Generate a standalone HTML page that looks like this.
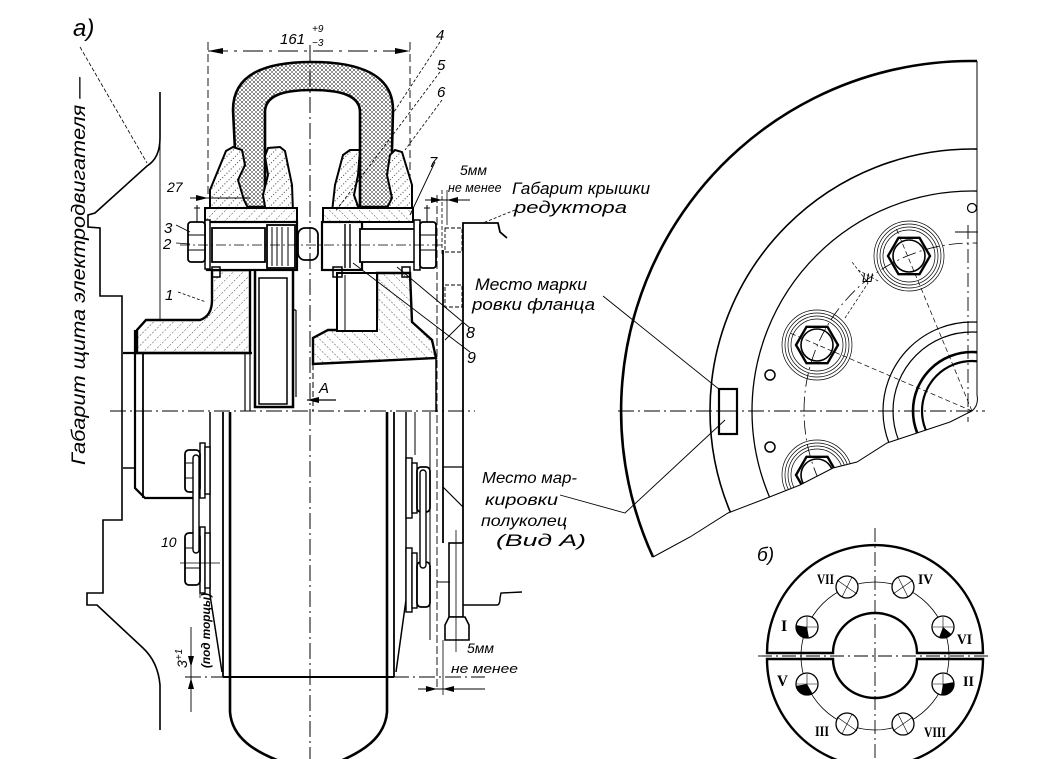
<!DOCTYPE html>
<html><head><meta charset="utf-8">
<style>
html,body{margin:0;padding:0;background:#fff;}
svg{display:block;}
text{font-family:"Liberation Sans",sans-serif;font-style:italic;fill:#000;stroke:none;}
.r{font-family:"Liberation Serif",serif;font-style:normal;font-weight:bold;}
</style></head><body>
<svg width="1059" height="759" viewBox="0 0 1059 759" xmlns="http://www.w3.org/2000/svg">
<defs>
<pattern id="tire" width="4" height="4" patternUnits="userSpaceOnUse">
 <rect width="4" height="4" fill="#fff"/>
 <path d="M0,4 L4,0 M0,0 L4,4" stroke="#000" stroke-width="0.4"/>
 <circle cx="2" cy="2" r="0.6" fill="#000"/>
</pattern>
<pattern id="hA" width="7" height="7" patternUnits="userSpaceOnUse" patternTransform="rotate(45)">
 <rect width="7" height="7" fill="#fff"/>
 <line x1="0" y1="0" x2="0" y2="7" stroke="#000" stroke-width="0.7" stroke-dasharray="2,1.5"/>
</pattern>
<pattern id="hB" width="7" height="7" patternUnits="userSpaceOnUse" patternTransform="rotate(-45)">
 <rect width="7" height="7" fill="#fff"/>
 <line x1="0" y1="0" x2="0" y2="7" stroke="#000" stroke-width="0.7" stroke-dasharray="2,1.5"/>
</pattern>
<pattern id="hL" width="6" height="6" patternUnits="userSpaceOnUse" patternTransform="rotate(45)">
 <rect width="6" height="6" fill="#fff"/>
 <circle cx="1" cy="1" r="0.5" fill="#000"/>
 <circle cx="1" cy="4" r="0.5" fill="#000"/>
</pattern>
<clipPath id="fan"><path d="M977,55 L977,395 Q979,405 972,411 L950,422 L920,432 L887,443 L857,462 L833,468 L800,485 L767,498 L728,513 L690,537 L653,557 A350,350 0 0 1 972,61 Z"/></clipPath>
</defs>

<!-- ================= LEFT VIEW ================= -->
<g fill="none" stroke="#000">
<!-- dimension 161 -->
<line x1="208" y1="51" x2="410" y2="51" stroke-width="1" stroke-dasharray="20,6,3,6"/>
<path d="M208,51 l15,-3 v6 z M410,51 l-15,-3 v6 z" fill="#000" stroke="none"/>
<line x1="208" y1="42" x2="208" y2="198" stroke-width="0.9" stroke-dasharray="8,4"/>
<line x1="410" y1="42" x2="410" y2="215" stroke-width="0.9" stroke-dasharray="8,4"/>

<!-- motor shield outline -->
<path d="M160,92 L160,138 Q160,158 147,166 L95,213 L88,215 L88,227 L100,228 L100,296 L122,296 L122,520 L103,520 L103,593 L87,593 L87,605 L97,605 L143,648 Q158,662 160,685 L160,730" stroke-width="1.6"/>
<line x1="160" y1="92" x2="160" y2="353" stroke-width="0.9"/>
<line x1="123" y1="468" x2="135" y2="468" stroke-width="1.5"/>
<line x1="80" y1="47" x2="147" y2="163" stroke-width="0.8" stroke-dasharray="4,2"/>

<!-- tire (top) -->
<path d="M235,207 L235,150 L233,110 C233,74 265,62 312,62 C358,62 393,74 393,110 L392,150 L392,207 L360,207 L360,112 C360,96 342,90 312,90 C282,90 265,96 265,112 L265,207 Z" fill="url(#tire)" stroke-width="2.6"/>

<!-- clamps -->
<polygon points="210,212 210,190 226,151 233,147 242,150 245,165 238,180 244,200 250,212" fill="url(#hL)" stroke-width="2"/>
<polygon points="266,212 263,195 268,175 265,156 268,148 280,147 285,151 292,185 293,212" fill="url(#hL)" stroke-width="2"/>
<polygon points="332,212 335,185 343,155 350,150 360,150 358,175 354,195 360,212" fill="url(#hL)" stroke-width="2"/>
<polygon points="385,212 392,198 387,175 390,155 395,150 402,152 412,185 412,214" fill="url(#hL)" stroke-width="2"/>

<!-- flange seats -->
<rect x="205" y="208" width="92" height="14" fill="url(#hA)" stroke-width="2"/>
<rect x="323" y="208" width="90" height="14" fill="url(#hB)" stroke-width="2"/>

<!-- left hub hatched -->
<path d="M137,353 L137,330 L146,320 L200,320 Q212,316 212,300 L212,270 L250,270 L250,353 Z" fill="url(#hA)" stroke-width="2.4"/>
<line x1="123" y1="353" x2="252" y2="353" stroke-width="2.2"/>
<path d="M135,330 L135,488 L145,498 L197,498" stroke-width="2.2"/>
<line x1="143" y1="353" x2="143" y2="498" stroke-width="1.8"/>
<line x1="245" y1="353" x2="245" y2="411" stroke-width="1.2"/>
<line x1="250" y1="353" x2="250" y2="411" stroke-width="1.2"/>

<!-- left disc -->
<rect x="255" y="267" width="38" height="140" fill="#fff" stroke-width="2.5"/>
<rect x="259" y="278" width="28" height="126" stroke-width="1.5"/>
<line x1="293" y1="310" x2="296" y2="310" stroke-width="1.2"/>
<line x1="296" y1="310" x2="296" y2="397" stroke-width="1.2"/>

<!-- right hub hatched -->
<path d="M313,364 L313,338 L328,330 L373,330 L377,318 L377,273 L410,273 L412,322 L432,340 L436,358 Z" fill="url(#hB)" stroke-width="2.4"/>
<rect x="337" y="273" width="40" height="58" fill="#fff" stroke-width="2"/>
<line x1="345" y1="275" x2="345" y2="330" stroke-width="1"/>
<line x1="313" y1="364" x2="313" y2="411" stroke-width="1" stroke-dasharray="6,3"/>
<line x1="436" y1="358" x2="436" y2="412" stroke-width="1.5"/>

<!-- left bolt assembly -->
<rect x="207" y="222" width="90" height="48" fill="#fff" stroke-width="2.2"/>
<rect x="212" y="228" width="53" height="34" stroke-width="1.8"/>
<rect x="267" y="225" width="28" height="43" fill="#fff" stroke-width="1.8"/>
<path d="M272,227 V266 M277,227 V266 M282,227 V266 M288,227 V266" stroke-width="1"/>
<rect x="205" y="220" width="5" height="49" fill="#fff" stroke-width="1.5"/>
<rect x="188" y="222" width="17" height="40" rx="3" fill="#fff" stroke-width="1.8"/>
<path d="M188,235 H205 M188,250 H205" stroke-width="1"/>
<path d="M197,205 V222 M194,208 H200" stroke-width="1"/>
<rect x="212" y="267" width="8" height="10" stroke-width="1.5"/>

<!-- right bolt assembly -->
<rect x="298" y="228" width="20" height="32" rx="7" fill="#fff" stroke-width="1.8"/>
<rect x="322" y="222" width="40" height="48" fill="#fff" stroke-width="2.2"/>
<path d="M345,224 V268 M350,224 V268" stroke-width="1.4"/>
<rect x="360" y="229" width="60" height="33" fill="#fff" stroke-width="1.8"/>
<rect x="414" y="220" width="6" height="50" fill="#fff" stroke-width="1.5"/>
<rect x="420" y="222" width="16" height="46" rx="3" fill="#fff" stroke-width="1.8"/>
<path d="M420,235 H436 M420,250 H436" stroke-width="1"/>
<path d="M427,205 V222 M424,208 H430" stroke-width="1"/>
<rect x="333" y="267" width="9" height="10" stroke-width="1.5"/>
<rect x="402" y="267" width="8" height="10" stroke-width="1.5"/>

<!-- bottom tire -->
<path d="M230,412 L230,712 C232,738 255,752 282,762" stroke-width="2.6"/>
<path d="M387,412 L387,712 C385,738 362,752 338,762" stroke-width="2.6"/>
<line x1="223" y1="412" x2="223" y2="677" stroke-width="1.8"/>
<line x1="394" y1="412" x2="394" y2="677" stroke-width="1.8"/>
<line x1="223" y1="677" x2="394" y2="677" stroke-width="2"/>
<path d="M210,412 L210,595 L222,672" stroke-width="1.5"/>
<path d="M406,412 L406,600 L396,672" stroke-width="1.5"/>
<line x1="415" y1="412" x2="415" y2="455" stroke-width="1"/>
<line x1="430" y1="412" x2="430" y2="640" stroke-width="1"/>

<!-- bottom left bolts -->
<rect x="200" y="443" width="5" height="55" fill="#fff" stroke-width="1.4"/>
<rect x="205" y="447" width="5" height="47" fill="#fff" stroke-width="1.4"/>
<rect x="185" y="450" width="15" height="42" rx="4" fill="#fff" stroke-width="1.8"/>
<path d="M185,463 H200 M185,478 H200" stroke-width="1"/>
<rect x="200" y="527" width="5" height="66" fill="#fff" stroke-width="1.4"/>
<rect x="205" y="533" width="5" height="55" fill="#fff" stroke-width="1.4"/>
<rect x="185" y="533" width="15" height="52" rx="4" fill="#fff" stroke-width="1.8"/>
<path d="M185,548 H200 M185,568 H200" stroke-width="1"/>
<rect x="193" y="455" width="6" height="98" rx="3" fill="#fff" stroke-width="1.4"/>
<path d="M180,563 H220 M200,540 V598" stroke-width="0.8"/>

<!-- bottom right bolts -->
<rect x="406" y="458" width="6" height="60" fill="#fff" stroke-width="1.4"/>
<rect x="412" y="463" width="5" height="50" fill="#fff" stroke-width="1.4"/>
<rect x="417" y="467" width="13" height="45" rx="4" fill="#fff" stroke-width="1.8"/>
<rect x="406" y="548" width="6" height="64" fill="#fff" stroke-width="1.4"/>
<rect x="412" y="553" width="5" height="55" fill="#fff" stroke-width="1.4"/>
<rect x="417" y="562" width="13" height="45" rx="4" fill="#fff" stroke-width="1.8"/>
<rect x="420" y="470" width="6" height="98" rx="3" fill="#fff" stroke-width="1.4"/>

<!-- reductor cover / right side -->
<line x1="437" y1="195" x2="437" y2="690" stroke-width="0.9" stroke-dasharray="8,3"/>
<line x1="443" y1="250" x2="443" y2="543" stroke-width="1.8"/>
<path d="M463,543 L463,223 L498,223 L500,232 L507,238" stroke-width="1.8"/>
<line x1="443" y1="467" x2="463" y2="467" stroke-width="1.2"/>
<line x1="443" y1="487" x2="463" y2="507" stroke-width="1.2"/>
<rect x="445" y="228" width="17" height="24" stroke-width="0.9" stroke-dasharray="4,2"/>
<rect x="445" y="285" width="17" height="22" stroke-width="0.9" stroke-dasharray="4,2"/>
<rect x="449" y="543" width="14" height="74" fill="#fff" stroke-width="1.6"/>
<path d="M445,625 L449,617 L465,617 L469,625 L469,640 L445,640 Z" fill="#fff" stroke-width="1.6"/>
<line x1="456" y1="530" x2="456" y2="652" stroke-width="0.8"/>
<path d="M463,605 L497,605 Q500,605 500,598 L501,593 L522,592" stroke-width="1.4"/>
<line x1="437" y1="582" x2="450" y2="582" stroke-width="1"/>

<!-- axes -->
<line x1="310" y1="45" x2="310" y2="759" stroke-width="1" stroke-dasharray="16,4,2,4"/>
<line x1="110" y1="411" x2="475" y2="411" stroke-width="1" stroke-dasharray="16,4,2,4"/>
<line x1="185" y1="677" x2="485" y2="677" stroke-width="1" stroke-dasharray="16,4,2,4"/>
<line x1="180" y1="245" x2="445" y2="245" stroke-width="0.8" stroke-dasharray="10,3,2,3"/>

<!-- leaders -->
<line x1="440" y1="42" x2="392" y2="115" stroke-width="0.8" stroke-dasharray="3,2"/>
<line x1="440" y1="72" x2="335" y2="212" stroke-width="0.8" stroke-dasharray="3,2"/>
<line x1="442" y1="100" x2="405" y2="150" stroke-width="0.8" stroke-dasharray="3,2"/>
<line x1="435" y1="162" x2="410" y2="215" stroke-width="0.9"/>
<line x1="178" y1="292" x2="206" y2="302" stroke-width="0.8" stroke-dasharray="3,2"/>
<line x1="176" y1="225" x2="190" y2="232" stroke-width="0.8"/>
<line x1="176" y1="243" x2="190" y2="244" stroke-width="0.8"/>
<line x1="397" y1="267" x2="470" y2="328" stroke-width="0.9"/>
<line x1="353" y1="263" x2="470" y2="352" stroke-width="0.9"/>
<line x1="445" y1="340" x2="463" y2="322" stroke-width="0.9"/>
<line x1="515" y1="210" x2="483" y2="223" stroke-width="0.8" stroke-dasharray="3,2"/>
<!-- 27 dim -->
<line x1="190" y1="198" x2="250" y2="198" stroke-width="0.9"/>
<path d="M208,198 l-12,-3 v6 z" fill="#000" stroke="none"/>
<!-- 5mm top -->
<line x1="425" y1="200" x2="470" y2="200" stroke-width="0.9"/>
<path d="M442,200 l-11,-3 v6 z M447,200 l11,-3 v6 z" fill="#000" stroke="none"/>
<line x1="442" y1="190" x2="442" y2="255" stroke-width="0.8" stroke-dasharray="4,2"/>
<line x1="447" y1="190" x2="447" y2="225" stroke-width="0.8"/>
<!-- 5mm bottom -->
<line x1="418" y1="689" x2="485" y2="689" stroke-width="0.9"/>
<path d="M437,689 l-11,-3 v6 z M443,689 l11,-3 v6 z" fill="#000" stroke="none"/>
<line x1="443" y1="640" x2="443" y2="695" stroke-width="0.8"/>
<!-- 3+1 dim -->
<line x1="191" y1="627" x2="191" y2="712" stroke-width="0.9"/>
<path d="M191,667 l-3,-11 h6 z M191,678 l-3,11 h6 z" fill="#000" stroke="none"/>
<!-- A arrow -->
<line x1="307" y1="400" x2="336" y2="400" stroke-width="1.2"/>
<path d="M307,400 l12,-3 v6 z" fill="#000" stroke="none"/>
</g>

<!-- left view text -->
<text x="73" y="36" font-size="24">а)</text>
<text transform="translate(85,465) rotate(-90)" font-size="19" textLength="388" lengthAdjust="spacingAndGlyphs">Габарит щита электродвигателя —</text>
<text x="280" y="44" font-size="15">161</text>
<text x="312" y="32" font-size="10">+9</text>
<text x="312" y="46" font-size="10">−3</text>
<text x="436" y="40" font-size="15">4</text>
<text x="437" y="70" font-size="15">5</text>
<text x="437" y="97" font-size="15">6</text>
<text x="429" y="167" font-size="15">7</text>
<text x="167" y="192" font-size="14">27</text>
<text x="164" y="233" font-size="15">3</text>
<text x="163" y="249" font-size="15">2</text>
<text x="165" y="300" font-size="15">1</text>
<text x="466" y="338" font-size="16">8</text>
<text x="467" y="363" font-size="16">9</text>
<text x="319" y="393" font-size="15">A</text>
<text x="161" y="547" font-size="14">10</text>
<text x="460" y="175" font-size="14">5мм</text>
<text x="448" y="192" font-size="12.5">не менее</text>
<text x="512" y="194" font-size="17" textLength="138" lengthAdjust="spacingAndGlyphs">Габарит крышки</text>
<text x="514" y="213" font-size="17" textLength="113" lengthAdjust="spacingAndGlyphs">редуктора</text>
<text x="475" y="290" font-size="17" textLength="112" lengthAdjust="spacingAndGlyphs">Место марки</text>
<text x="472" y="310" font-size="17" textLength="123" lengthAdjust="spacingAndGlyphs">ровки фланца</text>
<text x="482" y="483" font-size="16" textLength="95" lengthAdjust="spacingAndGlyphs">Место мар-</text>
<text x="485" y="505" font-size="16" textLength="73" lengthAdjust="spacingAndGlyphs">кировки</text>
<text x="481" y="526" font-size="16" textLength="86" lengthAdjust="spacingAndGlyphs">полуколец</text>
<text x="496" y="546" font-size="17" textLength="90" lengthAdjust="spacingAndGlyphs">(Вид  А)</text>
<text x="467" y="653" font-size="14">5мм</text>
<text x="451" y="673" font-size="13" textLength="67" lengthAdjust="spacingAndGlyphs">не менее</text>
<text transform="translate(210,668) rotate(-90)" font-size="12" font-weight="bold" textLength="75" lengthAdjust="spacingAndGlyphs">(под торцы)</text>
<text transform="translate(187,668) rotate(-90)" font-size="14">3<tspan dy="-5" font-size="10">+1</tspan></text>

<!-- ================= RIGHT VIEW ================= -->
<g fill="none" stroke="#000">
<g clip-path="url(#fan)">
 <circle cx="972" cy="411" r="262" stroke-width="1.6"/>
 <circle cx="972" cy="411" r="220" stroke-width="1.3"/>
 <circle cx="972" cy="411" r="168" stroke-width="0.8" stroke-dasharray="14,4,2,4"/>
 <circle cx="972" cy="411" r="89" stroke-width="1.2"/>
 <circle cx="972" cy="411" r="79" stroke-width="1.2"/>
 <circle cx="972" cy="411" r="59" stroke-width="2.6"/>
 <circle cx="972" cy="411" r="50" stroke-width="2.2"/>
 <line x1="972" y1="411" x2="790" y2="333" stroke-width="0.7" stroke-dasharray="5,3"/>
 <line x1="972" y1="411" x2="896" y2="228" stroke-width="0.7" stroke-dasharray="5,3"/>
 <line x1="972" y1="411" x2="895" y2="470" stroke-width="0.7" stroke-dasharray="5,3"/>
 <!-- bolt 1 -->
 <g transform="translate(909,256)">
  <circle r="35" stroke-width="0.7"/><circle r="32" stroke-width="0.7"/><circle r="29" stroke-width="0.7"/><circle r="26" stroke-width="0.7"/>
  <polygon points="21,0 10.5,18.2 -10.5,18.2 -21,0 -10.5,-18.2 10.5,-18.2" stroke-width="2.4"/>
  <circle r="16" stroke-width="1.6"/>
 </g>
 <!-- bolt 2 -->
 <g transform="translate(817,345)">
  <circle r="35" stroke-width="0.7"/><circle r="32" stroke-width="0.7"/><circle r="29" stroke-width="0.7"/><circle r="26" stroke-width="0.7"/>
  <polygon points="21,0 10.5,18.2 -10.5,18.2 -21,0 -10.5,-18.2 10.5,-18.2" stroke-width="2.4"/>
  <circle r="16" stroke-width="1.6"/>
 </g>
 <!-- bolt 3 -->
 <g transform="translate(817,475)">
  <circle r="35" stroke-width="0.7"/><circle r="32" stroke-width="0.7"/><circle r="29" stroke-width="0.7"/><circle r="26" stroke-width="0.7"/>
  <polygon points="21,0 10.5,18.2 -10.5,18.2 -21,0 -10.5,-18.2 10.5,-18.2" stroke-width="2.4"/>
  <circle r="16" stroke-width="1.6"/>
 </g>
 <circle cx="770" cy="375" r="5" stroke-width="1.5"/>
 <circle cx="770" cy="447" r="5" stroke-width="1.5"/>
 <circle cx="972" cy="208" r="4.5" stroke-width="1.2"/>
</g>
<!-- outer boundary -->
<path d="M653,557 A350,350 0 0 1 972,61 L977,61" stroke-width="2.6"/>
<path d="M977,61 L977,395 Q979,405 972,411 L950,422 L920,432 L887,443 L857,462 L833,468 L800,485 L767,498 L728,513 L690,537 L653,557" stroke-width="1"/>
<!-- center lines -->
<line x1="618" y1="411" x2="985" y2="411" stroke-width="1" stroke-dasharray="16,4,2,4"/>
<line x1="968" y1="225" x2="968" y2="422" stroke-width="0.9" stroke-dasharray="14,4,2,4"/>
<line x1="955" y1="232" x2="978" y2="232" stroke-width="0.9"/>
<!-- marking rectangle -->
<rect x="719" y="389" width="18" height="45" fill="#fff" stroke-width="2.2"/>
<line x1="719" y1="411" x2="737" y2="411" stroke-width="1"/>
<!-- leaders -->
<line x1="603" y1="296" x2="720" y2="390" stroke-width="0.9"/>
<path d="M560,495 L625,513 L725,420" stroke-width="0.9"/>
<!-- marking near bolt 1 -->
<path d="M858,270 L880,282 M845,318 L868,283 L852,262" stroke-width="0.7" stroke-dasharray="3,2"/>
</g>
<text x="862" y="282" font-size="12">Ш</text>

<!-- ================= VIEW б) ================= -->
<g fill="none" stroke="#000">
<path d="M767,653 A108,108 0 0 1 983,653 L917,653 A42,40 0 0 0 833,653 Z" fill="#fff" stroke-width="2.4"/>
<path d="M767,659 A108,108 0 0 0 983,659 L917,659 A42,39 0 0 1 833,659 Z" fill="#fff" stroke-width="2.4"/>
<circle cx="875" cy="656" r="74" stroke-width="0.8"/>
<line x1="875" y1="528" x2="875" y2="759" stroke-width="0.9" stroke-dasharray="14,4,2,4"/>
<line x1="758" y1="656" x2="992" y2="656" stroke-width="0.9" stroke-dasharray="14,4,2,4"/>
<g stroke-width="1.3" fill="#fff">
 <circle cx="847" cy="587" r="11"/><circle cx="903" cy="587" r="11"/>
 <circle cx="807" cy="627" r="11"/><circle cx="943" cy="627" r="11"/>
 <circle cx="807" cy="684" r="11"/><circle cx="943" cy="684" r="11"/>
 <circle cx="847" cy="724" r="11"/><circle cx="903" cy="724" r="11"/>
</g>
<g stroke-width="0.6">
 <path d="M837,580 L857,594 M852,577 L842,597"/>
 <path d="M893,594 L913,580 M898,577 L908,597"/>
 <path d="M797,627 H817 M807,617 V637"/>
 <path d="M933,627 H953 M943,617 V637"/>
 <path d="M797,684 H817 M807,674 V694"/>
 <path d="M933,684 H953 M943,674 V694"/>
 <path d="M837,717 L857,731 M852,714 L842,734"/>
 <path d="M893,731 L913,717 M898,714 L908,734"/>
</g>
<g fill="#000" stroke="none">
 <path d="M807,627 L808.9,637.8 A11,11 0 0 1 796.2,625.1 Z"/>
 <path d="M943,627 L951.4,634.1 A11,11 0 0 1 939.2,637.3 Z"/>
 <path d="M807,684 L812.5,693.5 A11,11 0 0 1 796.2,685.9 Z"/>
 <path d="M943,684 L953.8,682.1 A11,11 0 0 1 941.1,694.8 Z"/>
</g>
</g>
<text x="757" y="561" font-size="19">б)</text>
<text class="r" x="817" y="584" font-size="15" textLength="17" lengthAdjust="spacingAndGlyphs">VII</text>
<text class="r" x="918" y="584" font-size="15" textLength="15" lengthAdjust="spacingAndGlyphs">IV</text>
<text class="r" x="781" y="631" font-size="16">I</text>
<text class="r" x="957" y="644" font-size="15" textLength="15" lengthAdjust="spacingAndGlyphs">VI</text>
<text class="r" x="777" y="686" font-size="16" textLength="11" lengthAdjust="spacingAndGlyphs">V</text>
<text class="r" x="963" y="686" font-size="15" textLength="11" lengthAdjust="spacingAndGlyphs">II</text>
<text class="r" x="815" y="736" font-size="15" textLength="14" lengthAdjust="spacingAndGlyphs">III</text>
<text class="r" x="924" y="737" font-size="15" textLength="22" lengthAdjust="spacingAndGlyphs">VIII</text>
</svg>
</body></html>
